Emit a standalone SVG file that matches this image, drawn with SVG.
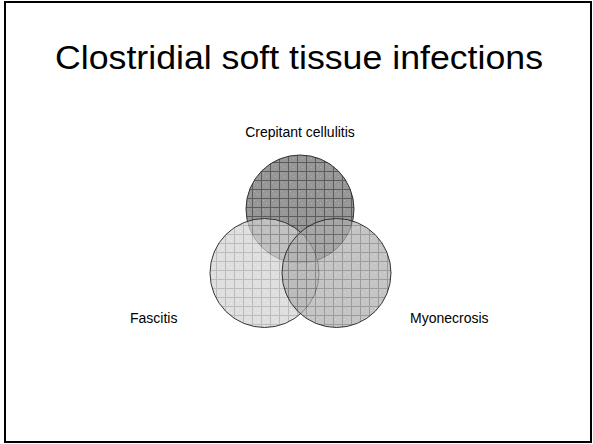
<svg xmlns="http://www.w3.org/2000/svg" width="593" height="444" viewBox="0 0 593 444">
<style>
.lbl{font-family:"Liberation Sans",Arial,sans-serif;font-size:14px;fill:#000}
.title{font-family:"Liberation Sans",Arial,sans-serif;font-size:34px;fill:#000}
.c{stroke:#222;stroke-width:1;stroke-opacity:0.9}
</style>
<defs>
<pattern id="pTop" width="9" height="9" patternUnits="userSpaceOnUse">
<rect width="9" height="9" fill="#8c8c8c"/>
<rect x="2" y="2" width="1" height="1" fill="#a8a8a8"/><rect x="5" y="5" width="1" height="1" fill="#a8a8a8"/>
<path d="M0 0.5H9M0.5 0V9" stroke="#4a4a4a" stroke-width="1"/>
</pattern>
<pattern id="pLeft" width="9" height="9" patternUnits="userSpaceOnUse">
<rect width="9" height="9" fill="#d2d2d2"/>
<rect x="3" y="3" width="1" height="1" fill="#e4e4e4"/><rect x="6" y="6" width="1" height="1" fill="#e4e4e4"/>
<path d="M0 0.5H9M0.5 0V9" stroke="#a0a0a0" stroke-width="1"/>
</pattern>
<pattern id="pRight" width="9" height="9" patternUnits="userSpaceOnUse">
<rect width="9" height="9" fill="#adadad"/>
<rect x="2" y="4" width="1" height="1" fill="#c4c4c4"/><rect x="6" y="2" width="1" height="1" fill="#c4c4c4"/>
<path d="M0 0.5H9M0.5 0V9" stroke="#727272" stroke-width="1"/>
</pattern>
</defs>
<rect x="5" y="2" width="586" height="440" fill="#fff" stroke="#000" stroke-width="2"/>
<text class="title" x="55" y="69" textLength="488" lengthAdjust="spacingAndGlyphs">Clostridial soft tissue infections</text>
<g id="crepitant">
<circle class="c" cx="300" cy="209" r="54" fill="url(#pTop)" fill-opacity="0.9"/>
<text class="lbl" x="300" y="137" text-anchor="middle">Crepitant cellulitis</text>
</g>
<g id="fascitis">
<circle class="c" cx="264.5" cy="273" r="54.5" fill="url(#pLeft)" fill-opacity="0.7"/>
<text class="lbl" x="130" y="323">Fascitis</text>
</g>
<g id="myonecrosis">
<circle class="c" cx="336.5" cy="273" r="54.5" fill="url(#pRight)" fill-opacity="0.7"/>
<text class="lbl" x="410" y="323">Myonecrosis</text>
</g>
<g id="connectors"></g>
</svg>
